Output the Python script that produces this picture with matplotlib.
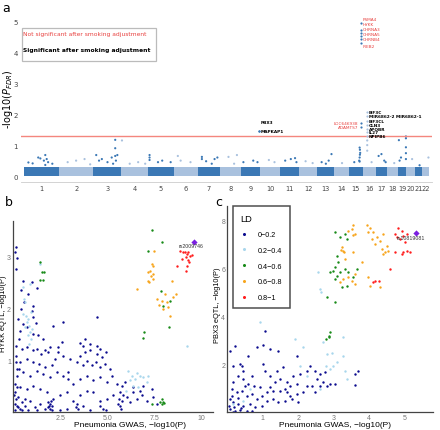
import numpy as np
import matplotlib.pyplot as plt
from matplotlib.lines import Line2D
from matplotlib.patches import Rectangle

# ---- panel a: Manhattan plot data ----
chrom_len = [249, 243, 198, 191, 181, 171, 159, 146, 141, 136, 135,
             134, 115, 107, 103, 90, 81, 78, 59, 63, 48, 51]
band_top = [0.31, 0.30, 0.31, 0.30, 0.31, 0.30, 0.31, 0.30, 0.31, 0.30, 0.31,
            0.30, 0.31, 0.30, 0.31, 0.30, 0.31, 0.30, 0.31, 0.30, 0.31, 0.30]

# loose points sticking out of the dense band: (chromosome, position Mb, -log10 P_FDR)
hits = [
    (1, 30, 0.44), (1, 60, 0.41), (1, 100, 0.60), (1, 115, 0.57), (1, 140, 0.50),
    (1, 150, 0.36), (1, 150, 0.68), (1, 160, 0.55), (1, 170, 0.45), (1, 200, 0.40),
    (2, 60, 0.45), (2, 120, 0.50), (2, 180, 0.55), (2, 220, 0.38),
    (3, 20, 0.68), (3, 40, 0.50), (3, 60, 0.55), (3, 100, 0.45), (3, 130, 0.60),
    (3, 155, 1.17), (3, 155, 0.90), (3, 155, 0.65), (3, 160, 0.50), (3, 140, 0.40),
    (3, 170, 0.68),
    (4, 5, 1.15), (4, 60, 0.40), (4, 120, 0.45), (4, 170, 0.40),
    (5, 10, 0.68), (5, 10, 0.60), (5, 10, 0.52), (5, 70, 0.45), (5, 100, 0.50), (5, 160, 0.45),
    (6, 30, 0.65), (6, 50, 0.50), (6, 120, 0.45),
    (7, 30, 0.62), (7, 30, 0.55), (7, 60, 0.48), (7, 120, 0.55), (7, 140, 0.60), (7, 100, 0.40),
    (8, 60, 0.62), (8, 120, 0.68), (8, 100, 0.40),
    (9, 20, 0.45), (9, 90, 0.50), (9, 120, 0.45),
    (10, 60, 0.52), (10, 100, 0.45),
    (11, 40, 0.50), (11, 80, 0.55), (11, 110, 0.58), (11, 120, 0.45),
    (12, 50, 0.48), (12, 100, 0.42),
    (13, 30, 0.45), (13, 80, 0.50), (13, 100, 0.71), (13, 60, 0.40),
    (14, 60, 0.42),
    (15, 78, 0.92), (15, 80, 0.85), (15, 82, 0.75), (15, 80, 0.69), (15, 78, 0.60),
    (15, 75, 0.50), (15, 78, 0.47), (15, 40, 0.45),
    (16, 29, 1.15), (16, 29, 1.00), (16, 29, 0.82), (16, 60, 0.45),
    (17, 20, 0.65), (17, 40, 0.71), (17, 60, 0.50), (17, 70, 0.45),
    (18, 50, 0.42),
    (19, 5, 1.16), (19, 55, 1.28), (19, 55, 1.22), (19, 55, 0.93), (19, 55, 0.74),
    (19, 55, 0.55), (19, 20, 0.60), (19, 10, 0.50),
    (20, 40, 0.55), (21, 30, 0.35), (22, 45, 0.60),
]

# annotated genes: (name, chromosome, position Mb, -log10 P_FDR, significant after adjustment)
genes = [
    ("PSMA4", 15, 88, 4.95, False), ("HYKK", 15, 88, 4.72, False),
    ("CHRNA3", 15, 88, 4.62, False), ("CHRNA5", 15, 88, 4.52, False),
    ("CHRNB4", 15, 88, 4.43, False), ("IREB2", 15, 88, 4.30, False),
    ("LOC646938", 15, 85, 1.71, False), ("ADAMTS7", 15, 86, 1.58, False),
    ("PBX3", 9, 130, 1.47, True), ("MAPKAP1", 9, 130, 1.46, True),
    ("EIF3C", 16, 30, 2.06, True), ("MIR6862-2 MIR6862-1", 16, 30, 1.94, True),
    ("EIF3CL", 16, 30, 1.77, True), ("CLN3", 16, 30, 1.65, True),
    ("APOBR", 16, 30, 1.53, True), ("IL27", 16, 30, 1.41, True),
    ("NPIPB6", 16, 30, 1.29, True),
]
# label offsets in points (dx, dy)
gene_offset = [(1, 2.5), (1, 4), (1, 2.7), (1, 1.3), (1, 0), (1, -2),
               (-2, 0), (-2, 0), (1, 6), (1, 0),
               (1.2, 0), (1.2, 0), (1.2, 0), (1.2, 0), (1.2, 0), (1.2, 0), (1.2, 0)]
threshold = 1.3

# ---- panel b: HYKK eQTL vs pneumonia GWAS ----
b_ld0 = [(0.16, 3.19), (0.11, 3.09), (0.19, 2.97), (0.14, 2.77), (0.51, 2.54), (0.99, 2.51),
         (1.25, 2.39), (0.41, 2.35), (0.81, 2.28), (0.58, 2.12), (1.08, 2.04), (0.42, 1.99),
         (0.99, 1.96), (0.28, 1.80), (1.08, 1.83), (0.55, 1.70), (0.76, 1.64), (1.22, 1.72),
         (0.37, 1.57), (1.04, 1.51), (1.34, 1.48), (1.61, 1.41), (2.14, 1.66), (4.47, 1.83),
         (1.87, 1.15), (0.34, 1.41), (0.16, 1.28), (0.46, 1.22), (0.72, 1.25), (1.08, 1.19),
         (1.29, 1.22), (1.47, 1.12), (1.70, 1.19), (1.96, 1.25), (2.40, 1.15), (2.67, 1.09),
         (3.02, 1.03), (3.55, 1.09), (3.82, 1.15), (4.08, 1.19), (4.43, 1.12), (4.70, 1.06),
         (4.93, 1.15), (3.37, 0.96), (3.69, 0.91), (3.94, 0.99), (4.17, 0.90), (4.40, 0.96),
         (4.61, 0.86), (4.88, 0.93), (5.14, 0.83), (2.23, 1.03), (2.05, 0.90), (1.70, 0.86),
         (1.40, 0.93), (1.04, 0.96), (0.72, 1.03), (0.37, 0.96), (0.19, 0.83), (0.55, 0.77),
         (0.90, 0.70), (1.25, 0.80), (1.61, 0.74), (1.96, 0.67), (2.31, 0.77), (2.67, 0.70),
         (2.93, 0.64), (3.20, 0.54), (3.55, 0.64), (3.90, 0.70), (4.26, 0.61), (4.61, 0.67),
         (4.96, 0.57), (5.23, 0.70), (5.49, 0.54), (5.76, 0.51), (5.94, 0.57), (6.38, 0.48),
         (6.73, 0.41), (5.67, 0.38), (5.32, 0.32), (4.96, 0.25), (4.61, 0.22), (4.26, 0.38),
         (3.90, 0.41), (3.55, 0.32), (3.20, 0.22), (2.84, 0.38), (2.49, 0.32), (2.14, 0.25),
         (1.78, 0.38), (1.43, 0.44), (1.08, 0.51), (0.72, 0.44), (0.37, 0.48), (0.11, 0.54),
         (0.11, 0.38), (0.28, 0.28), (0.46, 0.19), (0.19, 0.12), (0.11, 0.03), (0.37, 0.06),
         (0.64, 0.12), (0.90, 0.22), (1.17, 0.09), (1.43, 0.15), (1.70, 0.06), (1.87, 0.19),
         (1.93, 0.12), (1.96, 0.06), (2.05, 0.03), (2.00, 0.22), (3.37, 0.15), (3.34, 0.09),
         (3.46, 0.06), (4.61, 0.12), (4.79, 0.06), (4.93, 0.03), (5.58, 0.15), (5.64, 0.25),
         (5.76, 0.22), (5.85, 0.32), (6.02, 0.28), (6.20, 0.19), (6.34, 0.38), (6.55, 0.25),
         (6.82, 0.32), (7.08, 0.22), (7.44, 0.28), (7.61, 0.15), (7.35, 0.44), (6.91, 0.51),
         (3.73, 0.12), (4.08, 0.03), (2.84, 0.06), (2.49, 0.03), (1.25, 0.03), (0.81, 0.03),
         (0.16, 0.25), (0.23, 0.70), (0.16, 0.96), (0.16, 1.09), (0.34, 0.83), (2.67, 1.73),
         (3.82, 1.41), (4.08, 1.32), (3.73, 1.28), (3.55, 1.33), (4.43, 1.28), (4.61, 1.22),
         (2.40, 1.25), (2.58, 1.35), (2.93, 0.77), (0.11, 0.15), (0.28, 0.09), (0.46, 0.03),
         (0.64, 0.25), (0.05, 0.32), (0.19, 0.48), (1.96, 0.15), (1.87, 0.09), (2.05, 0.12),
         (5.67, 0.12), (5.71, 0.06)]
b_ld1 = [(0.51, 2.41), (0.60, 2.19), (0.64, 2.12), (0.55, 1.90), (0.69, 1.86), (0.81, 1.80),
         (0.94, 1.93), (0.72, 1.73), (0.87, 1.67), (0.64, 1.64), (0.90, 1.54), (0.81, 1.48),
         (0.94, 1.41), (0.87, 1.32), (0.99, 1.60), (1.43, 2.86), (0.90, 2.48), (6.11, 0.80),
         (6.29, 0.70), (6.47, 0.64), (6.73, 0.70), (6.91, 0.67), (7.08, 0.57), (7.17, 0.70),
         (6.38, 0.51), (6.64, 0.48), (6.20, 0.61), (5.99, 0.41), (6.55, 0.75), (9.20, 1.28)]
b_ld2 = [(7.35, 3.51), (7.92, 3.29), (7.14, 3.11), (7.84, 2.33), (8.32, 2.15), (7.97, 2.04),
         (8.28, 1.64), (6.96, 1.54), (6.87, 1.43), (7.88, 0.25), (7.97, 0.20), (7.92, 0.15),
         (8.00, 0.17), (7.79, 0.19), (7.35, 0.15), (1.43, 2.89), (1.52, 2.70), (1.66, 2.71),
         (1.43, 2.56), (1.57, 2.55)]
b_ld3 = [(7.47, 3.12), (7.35, 2.86), (7.40, 2.82), (7.26, 2.73), (7.17, 2.71), (7.44, 2.67),
         (7.30, 2.62), (7.14, 2.54), (7.40, 2.57), (7.20, 2.52), (6.55, 2.37), (8.41, 2.54),
         (7.61, 2.19), (8.06, 2.28), (8.14, 2.12), (7.88, 2.15), (8.23, 2.02), (8.50, 2.22),
         (8.64, 2.28), (7.97, 1.99), (7.76, 2.06), (8.32, 1.86)]
b_ld4 = [(8.85, 3.12), (9.00, 3.09), (9.12, 3.10), (9.20, 3.06), (9.29, 3.10), (9.38, 3.02),
         (9.47, 3.04), (9.17, 2.99), (8.94, 2.96), (9.30, 2.93), (9.35, 2.89), (9.25, 2.83),
         (8.67, 2.83), (9.15, 2.73)]
b_lead = (9.61, 3.29)
b_lead_name = "rs2009746"

# ---- panel c: PBX3 eQTL vs pneumonia GWAS ----
c_ld0 = [(1.07, 3.39), (1.02, 2.79), (0.22, 2.76), (0.08, 2.56), (0.83, 2.69), (1.21, 2.63),
         (1.44, 2.56), (0.59, 2.35), (1.96, 2.35), (0.36, 2.00), (0.41, 1.93), (0.45, 1.72),
         (0.17, 1.93), (1.02, 2.00), (1.07, 1.72), (1.21, 1.51), (1.35, 1.24), (1.49, 1.38),
         (1.68, 1.24), (1.86, 1.51), (1.77, 1.10), (1.96, 1.17), (2.34, 1.93), (2.48, 1.72),
         (2.62, 1.58), (2.76, 1.65), (2.52, 1.38), (2.71, 1.24), (2.81, 1.10), (2.90, 1.17),
         (3.04, 1.17), (2.38, 1.10), (3.61, 1.58), (3.70, 1.72), (3.61, 1.13), (2.15, 0.82),
         (1.96, 0.75), (1.68, 0.82), (1.49, 0.89), (1.30, 0.89), (1.11, 0.82), (0.92, 1.03),
         (0.74, 1.10), (0.59, 1.17), (0.45, 1.38), (0.31, 1.51), (0.17, 1.24), (0.12, 0.96),
         (0.26, 0.82), (0.41, 0.89), (0.55, 0.68), (0.69, 0.75), (0.83, 0.54), (0.97, 0.68),
         (1.11, 0.47), (1.30, 0.54), (1.44, 0.40), (1.63, 0.47), (1.82, 0.54), (2.00, 0.40),
         (0.08, 0.54), (0.17, 0.40), (0.31, 0.33), (0.45, 0.26), (0.64, 0.33), (0.78, 0.19),
         (0.97, 0.26), (0.08, 0.13), (0.22, 0.06), (0.36, 0.10), (0.55, 0.04), (0.06, 0.26),
         (0.12, 0.68), (0.50, 1.10), (0.69, 1.51), (1.39, 1.72), (1.58, 1.86), (2.05, 1.58),
         (2.26, 1.72), (1.21, 1.03), (2.24, 1.10), (2.48, 0.82), (2.62, 1.10), (1.63, 0.96),
         (1.77, 0.68), (0.30, 0.60), (0.20, 0.20), (0.40, 0.15), (0.70, 0.05), (0.15, 0.02)]
c_ld1 = [(2.57, 5.82), (2.62, 5.13), (2.64, 5.01), (0.91, 3.76), (1.91, 3.04), (2.15, 2.69),
         (2.71, 2.90), (3.28, 3.11), (2.81, 2.42), (2.95, 2.46), (3.28, 2.32), (3.32, 1.72),
         (3.37, 1.38), (2.99, 1.93), (2.90, 1.79), (2.05, 1.93), (2.24, 1.51), (2.62, 0.96),
         (0.64, 0.96), (0.45, 0.47), (0.17, 0.33), (3.09, 2.07), (2.79, 1.93)]
c_ld2 = [(3.32, 7.42), (3.04, 7.49), (3.37, 7.21), (3.18, 7.28), (3.09, 6.51), (3.14, 6.24),
         (3.04, 6.03), (2.99, 5.89), (2.90, 5.82), (3.09, 5.68), (3.04, 5.54), (3.18, 5.82),
         (3.32, 5.96), (3.42, 5.82), (3.65, 5.96), (3.56, 5.61), (3.37, 5.26), (3.23, 5.19),
         (2.81, 4.78), (3.04, 4.60), (2.90, 3.32), (2.88, 3.11), (2.79, 3.04), (2.86, 3.18)]
c_ld3 = [(3.56, 7.79), (3.51, 7.63), (3.61, 7.42), (3.54, 7.38), (3.42, 7.56), (3.94, 7.81),
         (4.03, 7.65), (4.12, 7.49), (4.22, 7.28), (4.08, 7.21), (4.17, 7.00), (4.31, 7.14),
         (4.41, 7.42), (4.50, 6.93), (4.55, 6.72), (4.45, 6.65), (4.36, 6.79), (4.41, 6.58),
         (3.98, 7.49), (3.23, 6.86), (3.26, 6.72), (3.30, 6.65), (3.20, 6.76), (3.32, 6.38),
         (3.56, 6.65), (3.80, 6.24), (3.98, 5.61), (4.03, 5.26), (4.31, 5.19), (3.61, 5.75),
         (3.42, 5.61), (3.51, 5.47), (3.18, 5.40), (3.61, 5.33), (3.28, 5.54)]
c_ld4 = [(4.74, 7.42), (4.78, 7.28), (4.93, 7.56), (4.88, 7.21), (4.97, 7.35), (5.07, 7.42),
         (5.02, 7.07), (4.74, 6.65), (4.97, 6.65), (5.07, 6.72), (4.93, 6.58), (5.16, 6.68),
         (4.60, 5.96), (4.17, 5.47), (4.12, 5.40), (4.29, 5.47), (4.83, 7.65)]
c_lead = (5.32, 7.44)
c_lead_name = "rs10819081"

ld_labels = ["0\u22120.2", "0.2\u22120.4", "0.4\u22120.6", "0.6\u22120.8", "0.8\u22121"]
ld_colors = ["#0b0b8e", "#a8d6ec", "#178a17", "#f7a51c", "#ff1c1c"]
lead_color = "#7a1fe0"

fig = plt.figure(figsize=(4.4, 4.31), dpi=100)

# ================= panel a =================
ax = fig.add_axes([0.0477, 0.5754, 0.934, 0.3898])
dark, light = "#3b78b5", "#a9c1de"
starts = np.concatenate([[0], np.cumsum(chrom_len)[:-1]])
centers = starts + np.array(chrom_len) / 2
chr_cols = [dark if i % 2 == 0 else light for i in range(22)]
ax.bar(starts, band_top, width=chrom_len, align='edge', color=chr_cols, linewidth=0)

hx = [starts[c - 1] + p for c, p, y in hits]
hy = [y for c, p, y in hits]
hc = [chr_cols[c - 1] for c, p, y in hits]
ax.scatter(hx, hy, s=2.5, c=hc, linewidths=0)

ax.axhline(threshold, color='#f4867e', lw=1.0, zorder=1)

for (name, c, p, y, sig), (dx, dy) in zip(genes, gene_offset):
    gx = starts[c - 1] + p
    ax.scatter([gx], [y], s=2.5, color=chr_cols[c - 1], linewidths=0, zorder=3)
    ax.annotate(name, (gx, y), xytext=(dx, dy), textcoords='offset points',
                ha='left' if dx > 0 else 'right', va='center', fontsize=3.1,
                color='black' if sig else '#e8413f',
                fontweight='bold' if sig else 'normal')

ax.set_xlim(-22.7, 2898)
ax.set_ylim(-0.19, 5.23)
ax.set_xticks(centers)
ax.set_xticklabels([str(i) for i in range(1, 23)])
ax.set_yticks([0, 1, 2, 3, 4, 5])
ax.tick_params(axis='both', length=0, labelsize=5, colors='#444444', pad=2)
ax.tick_params(axis='x', labelsize=4.8)
for s in ['top', 'right', 'left']:
    ax.spines[s].set_visible(False)
ax.spines['bottom'].set_color('#cccccc')
ax.spines['bottom'].set_linewidth(0.6)
ax.set_ylabel('-log10($P_{FDR}$)', fontsize=7)
ax.yaxis.set_label_coords(-0.015, 0.5)

ax.add_patch(Rectangle((0.0017, 0.722), 0.327, 0.193, transform=ax.transAxes,
                       facecolor='white', edgecolor='#bbbbbb', lw=0.9, zorder=4))
ax.text(0.0056, 0.885, 'Not significant after smoking adjustment', transform=ax.transAxes,
        fontsize=4.3, color='#e8413f', va='center', zorder=5)
ax.text(0.0056, 0.786, 'Significant after smoking adjustment', transform=ax.transAxes,
        fontsize=4.3, color='black', fontweight='bold', va='center', zorder=5)


def ld_panel(ax, groups, lead, lead_name, lead_off):
    for pts, col in zip(groups, ld_colors):
        arr = np.array(pts)
        ax.scatter(arr[:, 0], arr[:, 1], s=3, color=col, linewidths=0)
    ax.scatter([lead[0]], [lead[1]], s=10, marker='D', color=lead_color, linewidths=0, zorder=3)
    ax.annotate(lead_name, lead, xytext=lead_off, textcoords='offset points',
                ha='center', va='center', fontsize=3.8, color='#333333',
                family='Liberation Sans')
    for s in ['top', 'right']:
        ax.spines[s].set_visible(False)
    for s in ['left', 'bottom']:
        ax.spines[s].set_color('#444444')
        ax.spines[s].set_linewidth(0.9)
    ax.tick_params(axis='both', length=0, labelsize=5, colors='#777777', pad=1.5)


# ================= panel b =================
axb = fig.add_axes([0.0295, 0.0418, 0.4545, 0.443])
ld_panel(axb, [b_ld0, b_ld1, b_ld2, b_ld3, b_ld4], b_lead, b_lead_name, (-2.5, -2.5))
axb.set_xlim(0, 10.6)
axb.set_ylim(0, 3.69)
axb.set_xticks([2.5, 5.0, 7.5, 10])
axb.set_xticklabels(['2.5', '5.0', '7.5', '10'], family='Liberation Sans')
axb.set_yticks([1, 2, 3])
axb.set_yticklabels(['1', '2', '3'], family='Liberation Sans')
axb.set_xlabel('Pneumonia GWAS, \u2212log10(P)', fontsize=6, family='Liberation Sans')
axb.set_ylabel('HYKK eQTL, \u2212log10(P)', fontsize=5.3, family='Liberation Sans')
axb.xaxis.set_label_coords(0.585, -0.045)
axb.yaxis.set_label_coords(-0.031, 0.52)

# ================= panel c =================
axc = fig.add_axes([0.5166, 0.0418, 0.4675, 0.4787])
ld_panel(axc, [c_ld0, c_ld1, c_ld2, c_ld3, c_ld4], c_lead, c_lead_name, (-3.4, -2.9))
axc.set_xlim(0, 5.81)
axc.set_ylim(0, 8.6)
axc.set_xticks([1, 2, 3, 4, 5])
axc.set_xticklabels(['1', '2', '3', '4', '5'], family='Liberation Sans')
axc.set_yticks([2, 4, 6, 8])
axc.set_yticklabels(['2', '4', '6', '8'], family='Liberation Sans')
axc.set_xlabel('Pneumonia GWAS, \u2212log10(P)', fontsize=6, family='Liberation Sans')
axc.set_ylabel('PBX3 eQTL, \u2212log10(P)', fontsize=5.3, family='Liberation Sans')
axc.xaxis.set_label_coords(0.525, -0.045)
axc.yaxis.set_label_coords(-0.03, 0.52)

handles = [Line2D([], [], marker='o', ls='', markersize=2.2, color=c, markeredgewidth=0)
           for c in ld_colors]
leg = axc.legend(handles, ld_labels, title='LD', loc='upper left',
                 bbox_to_anchor=(0.026, 0.997), borderaxespad=0, frameon=True,
                 fancybox=False, prop={'family': 'Liberation Sans', 'size': 5.2},
                 labelspacing=1.2, handletextpad=1.3, borderpad=1.0, handlelength=1.2)
leg.get_title().set_fontsize(6.7)
leg.get_title().set_family('Liberation Sans')
leg._legend_box.align = 'left'
leg.get_frame().set_edgecolor('#222222')
leg.get_frame().set_linewidth(1.1)

fig.text(0.005, 0.995, 'a', fontsize=9, va='top')
fig.text(0.011, 0.545, 'b', fontsize=9, va='top')
fig.text(0.489, 0.545, 'c', fontsize=9, va='top')

fig.savefig('out.png', dpi=100)
